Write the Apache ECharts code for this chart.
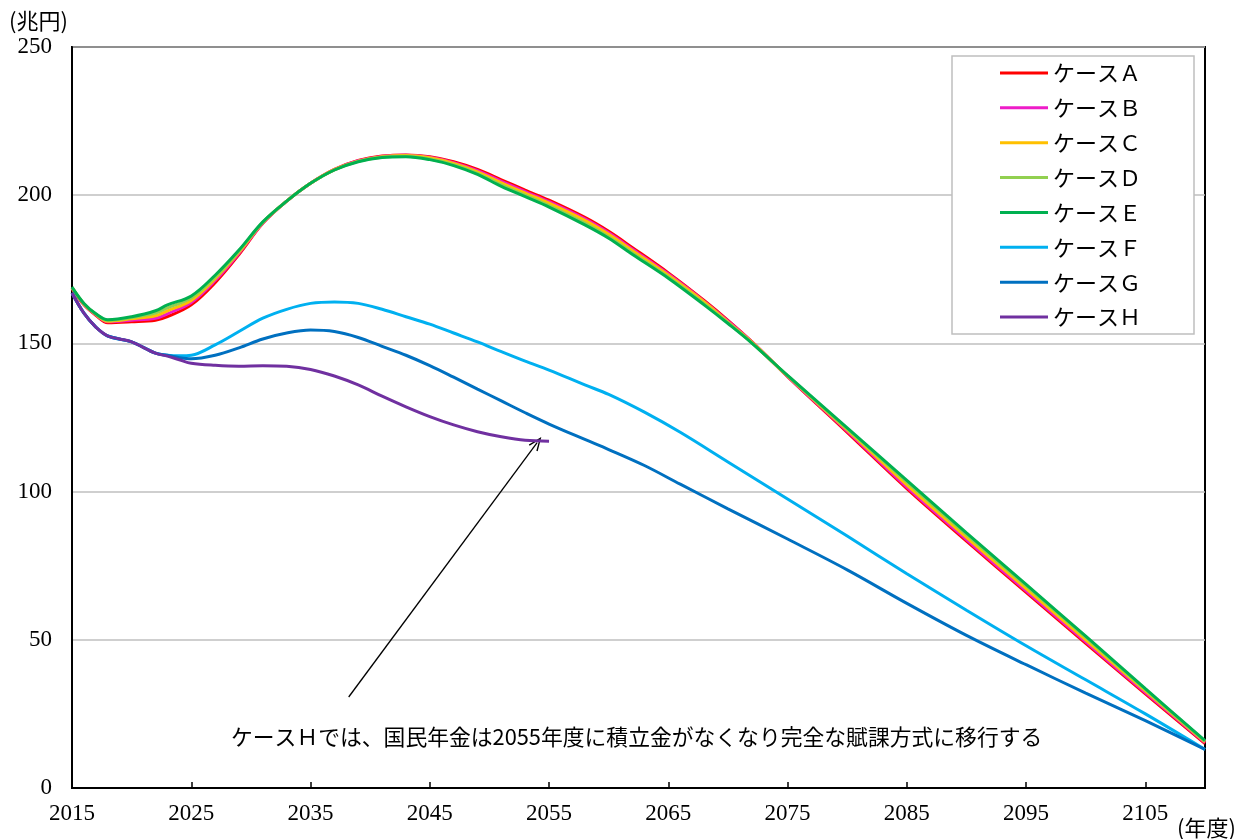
<!DOCTYPE html>
<html><head><meta charset="utf-8">
<script src="https://cdn.jsdelivr.net/npm/echarts@6/dist/echarts.min.js"></script>
<style>html,body{margin:0;padding:0;background:#fff}#c{width:1239px;height:839px}</style>
</head><body><div id="c"></div>
<script>
const seriesNames = ['ケースＡ','ケースＢ','ケースＣ','ケースＤ','ケースＥ','ケースＦ','ケースＧ','ケースＨ'];
const xTickLabels = [2015,2025,2035,2045,2055,2065,2075,2085,2095,2105];
const yTickLabels = [0,50,100,150,200,250];

const yearsAE = [2015,2016,2017,2018,2020,2022,2023,2025,2027,2029,2031,2033,2035,2037,2039,2041,2043,2045,2047,2049,2051,2053,2055,2058,2060,2062,2065,2068,2070,2072,2075,2080,2085,2090,2095,2100,2105,2110];
const caseA = [168.5,163,159.5,157,157.3,157.8,159,163,170.5,180,190.5,198,204,208.7,211.7,213.2,213.6,213,211.3,208.7,205.2,201.7,198.3,192.5,187.8,182.3,173.8,164.5,157.8,150.6,138.8,120,101,83.3,66,48.8,31.8,15];
const caseB = [168.7,163.2,159.7,157.3,157.8,158.5,160,163.8,171.2,180.4,190.6,198,204,208.6,211.6,213.1,213.5,212.8,211,208.3,204.7,201.2,197.8,192,187.3,181.8,173.4,164.2,157.5,150.5,138.9,120.4,101.5,83.8,66.5,49.3,32.2,15.3];
const caseC = [168.8,163.3,159.8,157.5,158.3,159.3,161,164.5,171.8,180.8,190.8,198,204,208.6,211.5,213,213.4,212.6,210.7,207.9,204.2,200.7,197.3,191.5,186.8,181.3,173,164,157.2,150.4,139,120.8,102.3,84.6,67.3,50,32.8,15.6];
const caseD = [168.9,163.4,159.9,157.8,158.7,160.2,162,165.3,172.3,181.2,190.9,198,204,208.5,211.4,212.8,213.1,212.2,210.3,207.4,203.5,200,196.5,190.6,186,180.5,172.4,163.4,156.9,150.2,139.1,121.2,103.2,85.5,68.2,50.8,33.2,15.8];
const caseE = [169,163.5,160,158,159,161,163,166,173,181.5,191,198,204,208.5,211.3,212.7,213,212,210,207,203,199.5,196,190,185.5,180,172,163,156.7,150.1,139.2,121.5,103.8,86.1,68.7,51.2,33.5,16];

const yearsFG = [2015,2016,2017,2018,2020,2022,2023,2024,2025,2027,2029,2031,2033,2035,2037,2039,2041,2043,2045,2047,2049,2051,2053,2055,2058,2060,2063,2066,2070,2075,2080,2085,2090,2095,2100,2105,2110];
const caseF = [167,160.2,155.5,152.5,150.5,146.7,146,145.8,146,149.5,154,158.5,161.5,163.5,164,163.5,161.5,159,156.5,153.5,150.5,147.2,144,141,136,132.8,126.8,120,110,97.5,85,72.3,60,48,36.5,25,13];
const caseG = [167,160.2,155.5,152.5,150.5,146.7,146,145.2,144.8,146,148.5,151.5,153.5,154.5,154,152,149,146,142.5,138.6,134.6,130.6,126.6,122.8,117.6,114.2,108.8,102.5,94.2,84,73.6,62.3,51.5,41.6,32,22.7,13];

const yearsH = [2015,2016,2017,2018,2019,2020,2022,2023,2024,2025,2027,2029,2031,2033,2035,2037,2039,2041,2043,2045,2047,2049,2051,2053,2055];
const caseH = [167,160.2,155.5,152.5,151.5,150.5,146.7,145.7,144.5,143.3,142.6,142.3,142.5,142.3,141.2,139,136,132.2,128.6,125.3,122.5,120.2,118.5,117.3,117];

const arrowFrom = [2038.2, 30.7];
const arrowTo = [2054, 116.5];
const noteText = 'ケースＨでは、国民年金は2055年度に積立金がなくなり完全な賦課方式に移行する';

const colors = ['#ff0000','#ee1cc8','#ffc000','#92d050','#00b050','#00b0f0','#0070c0','#7030a0'];
const allYears = [yearsAE,yearsAE,yearsAE,yearsAE,yearsAE,yearsFG,yearsFG,yearsH];
const allVals = [caseA,caseB,caseC,caseD,caseE,caseF,caseG,caseH];

const chart = echarts.init(document.getElementById('c'), null, {renderer:'canvas'});
const series = seriesNames.map((n,i)=>{
  const s = {
    name:n, type:'line', smooth:0.35, showSymbol:false, symbol:'none',
    data: allYears[i].map((y,k)=>[y, allVals[i][k]]),
    lineStyle:{color:colors[i], width:3}, itemStyle:{color:colors[i]},
    z: 2+i, animation:false
  };
  if (i===7) {
    s.markLine = {
      silent:true, animation:false,
      symbol:['none','path://M5,0 L10,12 L8.8,12.5 L5,3 L1.2,12.5 L0,12 Z'],
      symbolSize:[11,14],
      lineStyle:{color:'#000', width:1.3, type:'solid'},
      label:{show:false},
      data:[[{coord:arrowFrom},{coord:arrowTo}]]
    };
  }
  return s;
});

chart.setOption({
  animation:false,
  grid:{left:72, right:34, top:47, bottom:51, show:true, borderColor:'#000', borderWidth:2, backgroundColor:'transparent'},
  legend:{
    orient:'vertical', left:952, top:56,
    data:seriesNames, icon:'rect', itemWidth:48, itemHeight:3, itemGap:12.86,
    padding:[6,53,6,48], borderColor:'#bfbfbf', borderWidth:1.5, backgroundColor:'#fff',
    textStyle:{fontFamily:'"Noto Sans CJK JP"', fontSize:22, color:'#000', lineHeight:22}
  },
  xAxis:{
    type:'value', min:2015, max:2110,
    axisLine:{show:true, lineStyle:{color:'#000', width:2}},
    axisTick:{show:true, inside:true, length:6, lineStyle:{color:'#000', width:1.5}, customValues:xTickLabels},
    axisLabel:{customValues:xTickLabels, fontFamily:'"Liberation Serif"', fontSize:23, color:'#000', margin:14, formatter:v=>String(v)},
    splitLine:{show:false}
  },
  yAxis:{
    type:'value', min:0, max:250, interval:50,
    axisLine:{show:true, lineStyle:{color:'#000', width:2}},
    axisTick:{show:false},
    axisLabel:{fontFamily:'"Liberation Serif"', fontSize:23, color:'#000', margin:20},
    splitLine:{show:true, lineStyle:{color:'#bfbfbf', width:1.5}}
  },
  graphic:[
    {type:'text', left:9, top:10, style:{text:'(兆円)', font:'22px "Noto Sans CJK JP"', fill:'#000'}},
    {type:'text', left:1177, top:817, style:{text:'(年度)', font:'22px "Noto Sans CJK JP"', fill:'#000'}},
    {type:'text', left:231, top:726, style:{text:noteText, font:'21.8px "Noto Sans CJK JP"', fill:'#000'}}
  ],
  series: series
});
</script></body></html>
